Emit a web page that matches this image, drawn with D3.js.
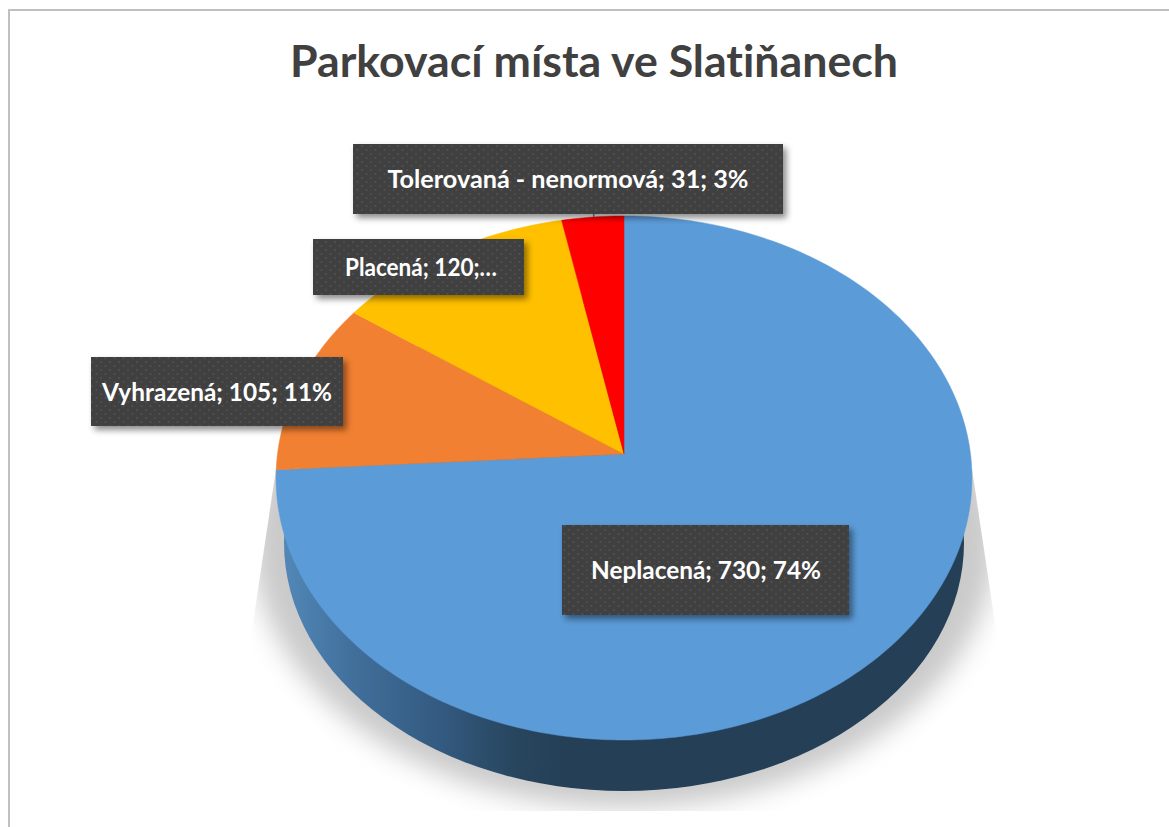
<!DOCTYPE html>
<html><head><meta charset="utf-8">
<script src="https://cdn.jsdelivr.net/npm/d3@7"></script>
<style>html,body{margin:0;padding:0;background:#fff}svg{display:block}text{font-family:Lato,"Open Sans",sans-serif;font-weight:700;font-variant-ligatures:none}</style>
</head><body><div id="c"></div>
<script>
const chartTitle = "Parkovací místa ve Slatiňanech";
const categories = ["Neplacená","Vyhrazená","Placená","Tolerovaná - nenormová"];
const values = [730,105,120,31];
const labelTexts = ["Neplacená; 730; 74%","Vyhrazená; 105; 11%","Placená; 120;…","Tolerovaná - nenormová; 31; 3%"];
const colors = ["#5B9BD8","#F28032","#FFC000","#FF0000"];

const W=1169,H=827;
const svg=d3.select("#c").append("svg").attr("width",W).attr("height",H);
const defs=svg.append("defs");

// layout of the label boxes [x,y,w,h,textCenterX,textWidth]
const boxes=[[562,525,287,90,706,230],[91,357,252,69,217,230],[313,239,211,56,421,152],[353,144,430,70,568,361]];

// perspective projection of the unit disc
const apex=[624,454],A=346.5,B=259.8,k=0.0916;
const project=(ang,r=1)=>{const u=r*Math.sin(ang),v=-r*Math.cos(ang),w=1-k*v;return [apex[0]+A*u/w,apex[1]+B*v/w];};
const pie=d3.pie().sort(null).value(d=>d);
const arcs=pie(values);
const line=d3.line();
const sliceD=a=>{const n=Math.max(2,Math.ceil((a.endAngle-a.startAngle)*60));
  const pts=[apex].concat(d3.range(n+1).map(i=>project(a.startAngle+(a.endAngle-a.startAngle)*i/n)));
  return line(pts)+"Z";};

// backdrop
svg.append("rect").attr("width",W).attr("height",H).attr("fill","#fff");
svg.append("rect").attr("x",8).attr("y",9).attr("width",W).attr("height",2).attr("fill","#c0c0c0");
svg.append("rect").attr("x",8).attr("y",9).attr("width",2).attr("height",H).attr("fill","#c0c0c0");

// shadow under the pie
defs.append("filter").attr("id","sb").attr("x","-20%").attr("y","-20%").attr("width","140%").attr("height","140%")
  .append("feGaussianBlur").attr("stdDeviation",13);
defs.append("clipPath").attr("id","sc").append("path")
  .attr("d","M276,469L972,469L996,630L996,811L252,811L252,630Z");
svg.append("g").attr("clip-path","url(#sc)").append("ellipse")
  .attr("cx",624).attr("cy",540).attr("rx",372).attr("ry",268).attr("fill","#cacaca").attr("filter","url(#sb)");

// side wall of the disc
const wg=defs.append("linearGradient").attr("id","wall").attr("gradientUnits","userSpaceOnUse")
  .attr("x1",282).attr("x2",570).attr("y1",0).attr("y2",0);
[[0,"#5288B8"],[.25,"#416F9B"],[.55,"#335A80"],[.8,"#28465F"],[1,"#243F56"]].forEach(s=>wg.append("stop").attr("offset",s[0]).attr("stop-color",s[1]));
svg.append("ellipse").attr("cx",624).attr("cy",543).attr("rx",340).attr("ry",248).attr("fill","url(#wall)");

// top of the disc
svg.append("g").selectAll("path").data(arcs).join("path")
  .attr("d",sliceD).attr("fill",(d,i)=>colors[i]).attr("stroke",(d,i)=>colors[i]).attr("stroke-width",.5);

// leader line
const la=arcs[3],lp=project((la.startAngle+la.endAngle)/2);
svg.append("line").attr("x1",lp[0]+1).attr("x2",lp[0]+1).attr("y1",214).attr("y2",lp[1]).attr("stroke","#7f7f7f").attr("stroke-width",1.5);

// label boxes
const pat=defs.append("pattern").attr("id","dots").attr("patternUnits","userSpaceOnUse").attr("width",9).attr("height",8);
pat.append("rect").attr("width",9).attr("height",8).attr("fill","#3f3f3f");
[[2,2],[6.5,6]].forEach(p=>pat.append("rect").attr("x",p[0]-.75).attr("y",p[1]-.75).attr("width",1.5).attr("height",1.5).attr("fill","#575757"));
const f=defs.append("filter").attr("id","bs").attr("x","-10%").attr("y","-20%").attr("width","125%").attr("height","150%");
f.append("feDropShadow").attr("dx",3.5).attr("dy",4).attr("stdDeviation",3).attr("flood-color","#000").attr("flood-opacity",.45);

const lab=svg.append("g").selectAll("g").data(categories).join("g");
lab.append("rect").attr("x",(d,i)=>boxes[i][0]).attr("y",(d,i)=>boxes[i][1]).attr("width",(d,i)=>boxes[i][2]).attr("height",(d,i)=>boxes[i][3])
  .attr("fill","url(#dots)").attr("filter","url(#bs)");
lab.append("text").attr("x",(d,i)=>boxes[i][4]).attr("y",(d,i)=>boxes[i][1]+boxes[i][3]/2+9)
  .attr("text-anchor","middle").attr("font-size",24.5).attr("fill","#fff")
  .attr("textLength",(d,i)=>boxes[i][5]).attr("lengthAdjust","spacingAndGlyphs").text((d,i)=>labelTexts[i]);

svg.append("text").attr("x",594).attr("y",77).attr("text-anchor","middle").attr("font-size",44.5).attr("fill","#404040")
  .attr("textLength",608).attr("lengthAdjust","spacingAndGlyphs").text(chartTitle);
</script></body></html>
